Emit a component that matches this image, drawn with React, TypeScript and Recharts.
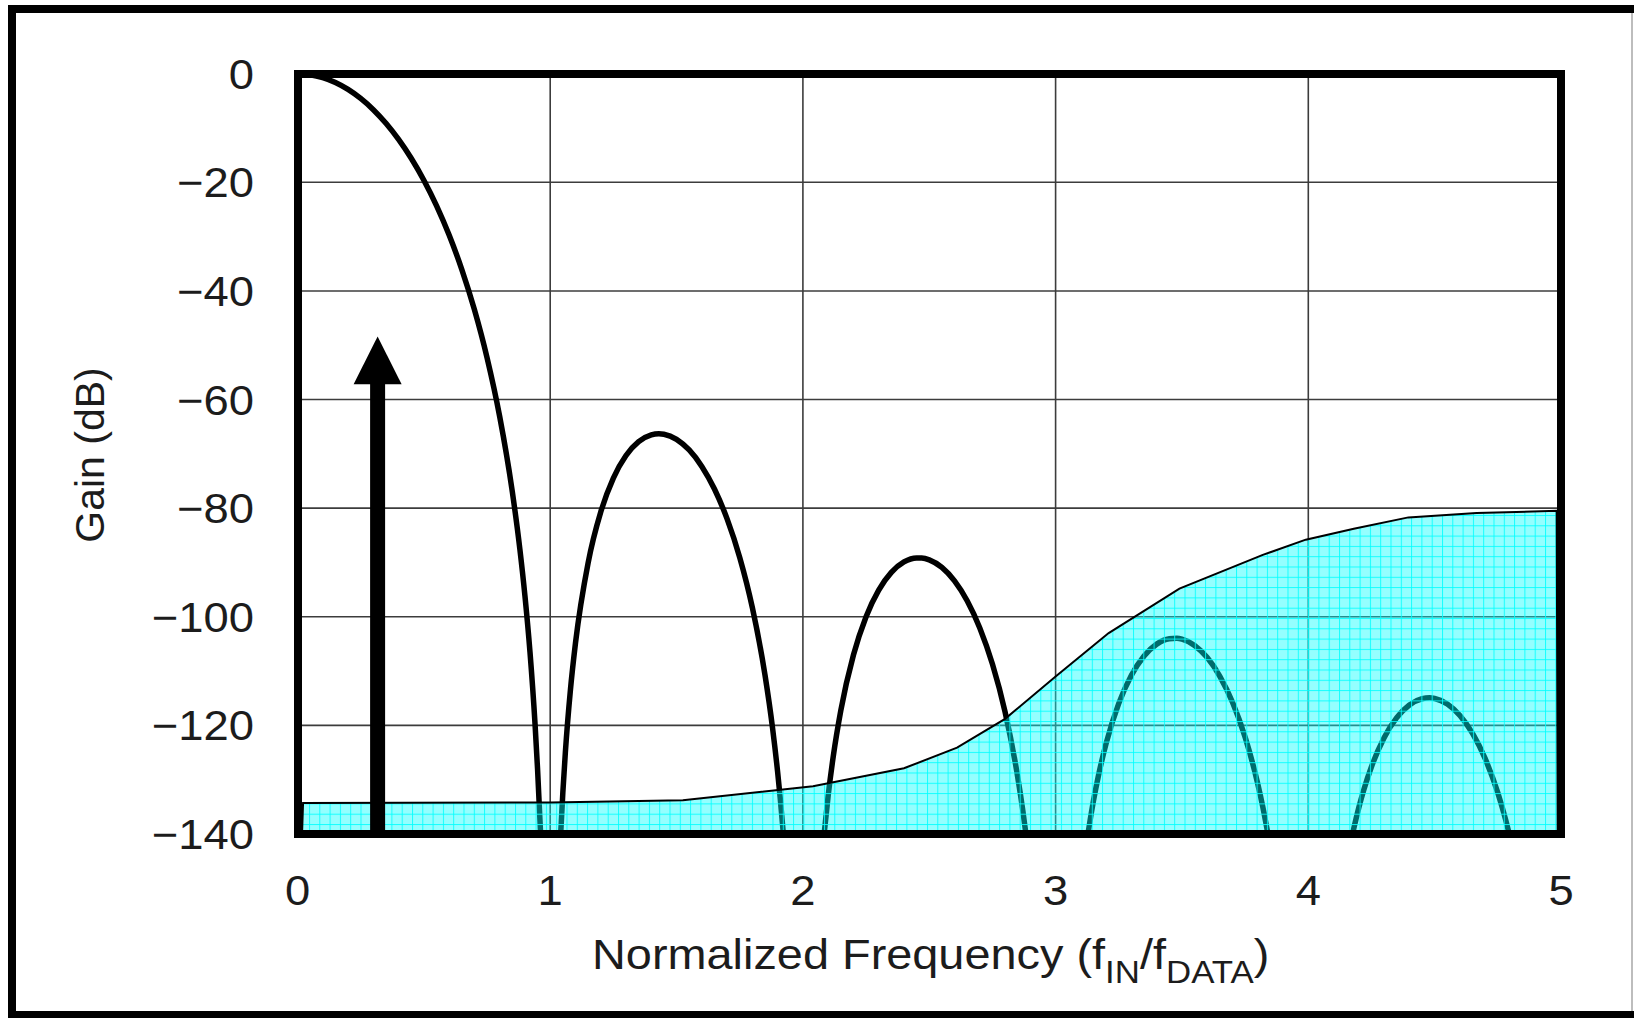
import React from 'react';
import { ComposedChart, Line, Area, XAxis, YAxis, CartesianGrid, Scatter } from 'recharts';

// ---------- data ----------
const X_TICKS = [0, 1, 2, 3, 4, 5];
const X_LABELS = ['0', '1', '2', '3', '4', '5'];
const Y_TICKS = [0, -20, -40, -60, -80, -100, -120, -140];
const Y_LABELS = ['0', '\u221220', '\u221240', '\u221260', '\u221280', '\u2212100', '\u2212120', '\u2212140'];

const LOBE_1 = [
  { x: 0, y: 0 }, { x: 0.05, y: -0.18 }, { x: 0.1, y: -0.72 }, { x: 0.15, y: -1.62 }, { x: 0.2, y: -2.9 },
  { x: 0.25, y: -4.56 }, { x: 0.3, y: -6.63 }, { x: 0.35, y: -9.13 }, { x: 0.4, y: -12.1 }, { x: 0.45, y: -15.57 },
  { x: 0.5, y: -19.61 }, { x: 0.55, y: -24.29 }, { x: 0.6, y: -29.71 }, { x: 0.65, y: -36.02 }, { x: 0.7, y: -43.43 },
  { x: 0.75, y: -52.27 }, { x: 0.8, y: -63.1 }, { x: 0.85, y: -76.95 }, { x: 0.88, y: -87.56 }, { x: 0.9, y: -96.14 },
  { x: 0.92, y: -106.5 }, { x: 0.94, y: -119.75 }, { x: 0.95, y: -128.06 }, { x: 0.962, y: -140 },
];
const LOBE_2 = [
  { x: 1.0415, y: -140 }, { x: 1.05, y: -132.4 }, { x: 1.06, y: -124.97 }, { x: 1.08, y: -113.49 }, { x: 1.1, y: -104.86 },
  { x: 1.15, y: -90.08 }, { x: 1.2, y: -80.71 }, { x: 1.25, y: -74.46 }, { x: 1.3, y: -70.31 }, { x: 1.35, y: -67.76 },
  { x: 1.4, y: -66.51 }, { x: 1.43, y: -66.31 }, { x: 1.45, y: -66.39 }, { x: 1.5, y: -67.32 }, { x: 1.55, y: -69.29 },
  { x: 1.6, y: -72.31 }, { x: 1.65, y: -76.48 }, { x: 1.7, y: -81.97 }, { x: 1.75, y: -89.07 }, { x: 1.8, y: -98.32 },
  { x: 1.85, y: -110.73 }, { x: 1.88, y: -120.53 }, { x: 1.9, y: -128.59 }, { x: 1.91, y: -133.26 }, { x: 1.9227, y: -140 },
];
const LOBE_3 = [
  { x: 2.084, y: -140 }, { x: 2.1, y: -132.94 }, { x: 2.12, y: -125.75 }, { x: 2.15, y: -117.25 }, { x: 2.2, y: -107.04 },
  { x: 2.25, y: -99.98 }, { x: 2.3, y: -95.09 }, { x: 2.35, y: -91.83 }, { x: 2.4, y: -89.91 }, { x: 2.45, y: -89.17 },
  { x: 2.47, y: -89.18 }, { x: 2.5, y: -89.51 }, { x: 2.55, y: -90.91 }, { x: 2.6, y: -93.39 }, { x: 2.65, y: -97.05 },
  { x: 2.7, y: -102.05 }, { x: 2.75, y: -108.7 }, { x: 2.8, y: -117.51 }, { x: 2.85, y: -129.5 }, { x: 2.87, y: -135.61 },
  { x: 2.8826, y: -140 },
];
const LOBE_4 = [
  { x: 3.128, y: -140 }, { x: 3.14, y: -136.49 }, { x: 3.15, y: -133.84 }, { x: 3.17, y: -129.15 }, { x: 3.2, y: -123.31 },
  { x: 3.25, y: -115.95 }, { x: 3.3, y: -110.77 }, { x: 3.35, y: -107.23 }, { x: 3.4, y: -105.04 }, { x: 3.45, y: -104.04 },
  { x: 3.48, y: -103.96 }, { x: 3.5, y: -104.12 }, { x: 3.55, y: -105.28 }, { x: 3.6, y: -107.52 }, { x: 3.65, y: -110.96 },
  { x: 3.7, y: -115.74 }, { x: 3.75, y: -122.17 }, { x: 3.8, y: -130.77 }, { x: 3.82, y: -135.02 }, { x: 3.8403, y: -140 },
];
const LOBE_5 = [
  { x: 4.1749, y: -140 }, { x: 4.2, y: -135.12 }, { x: 4.22, y: -131.8 }, { x: 4.25, y: -127.61 }, { x: 4.3, y: -122.27 },
  { x: 4.35, y: -118.58 }, { x: 4.4, y: -116.24 }, { x: 4.45, y: -115.09 }, { x: 4.48, y: -114.93 }, { x: 4.5, y: -115.04 },
  { x: 4.55, y: -116.05 }, { x: 4.6, y: -118.17 }, { x: 4.65, y: -121.47 }, { x: 4.7, y: -126.13 }, { x: 4.75, y: -132.44 },
  { x: 4.78, y: -137.22 }, { x: 4.7952, y: -140 },
];

const NOISE_FLOOR = [
  { x: 0.018, y: -140 }, { x: 0.022, y: -134.3 }, { x: 1.0, y: -134.2 }, { x: 1.525, y: -133.8 }, { x: 2.04, y: -131.2 },
  { x: 2.4, y: -127.9 }, { x: 2.61, y: -124.1 }, { x: 2.8, y: -118.8 }, { x: 3.0, y: -111.0 }, { x: 3.21, y: -103.0 },
  { x: 3.49, y: -94.8 }, { x: 3.82, y: -88.6 }, { x: 3.99, y: -85.8 }, { x: 4.18, y: -83.8 }, { x: 4.396, y: -81.7 },
  { x: 4.666, y: -80.9 }, { x: 4.983, y: -80.5 }, { x: 4.987, y: -140 },
];

const ARROW_X = 0.317;
const ARROW_TIP = -48.4;
const ARROW_BASE = -57;
const ARROW_SHAFT = [{ x: ARROW_X, y: -140 }, { x: ARROW_X, y: ARROW_BASE }];
const ARROW_HEAD = [{ x: ARROW_X, y: ARROW_TIP }];

const X_TITLE = 'Normalized Frequency (f';
const X_SUB1 = 'IN';
const X_MID = '/f';
const X_SUB2 = 'DATA';
const X_END = ')';
const Y_TITLE = 'Gain (dB)';

// ---------- layout ----------
const W = 1634;
const H = 1018;
const PL = 297.5;
const PR = 1561;
const PT = 73.7;
const PB = 834;
const YW = 60;
const XH = 60;
const FONT = '"Liberation Sans", Arial, Helvetica, sans-serif';
const TEXT = '#1c1c1c';

const XTick = (props: any) => {
  const { x, payload } = props;
  const i = X_TICKS.indexOf(payload.value);
  return (
    <text transform={`translate(${x},905) scale(1.08,1)`} textAnchor="middle" fontFamily={FONT} fontSize={42} fill={TEXT}>
      {X_LABELS[i]}
    </text>
  );
};

const YTick = (props: any) => {
  const { y, payload } = props;
  const i = Y_TICKS.indexOf(payload.value);
  return (
    <text transform={`translate(254,${y + 15}) scale(1.08,1)`} textAnchor="end" fontFamily={FONT} fontSize={42} fill={TEXT}>
      {Y_LABELS[i]}
    </text>
  );
};

const XTitle = () => (
  <text transform="translate(592,969) scale(1.09,1)" fontFamily={FONT} fontSize={43} fill={TEXT}>
    <tspan>{X_TITLE}</tspan>
    <tspan fontSize={32} dy={14}>{X_SUB1}</tspan>
    <tspan dy={-14}>{X_MID}</tspan>
    <tspan fontSize={32} dy={14}>{X_SUB2}</tspan>
    <tspan dy={-14}>{X_END}</tspan>
  </text>
);

const YTitle = () => (
  <text transform="translate(104,455) rotate(-90)" textAnchor="middle" fontFamily={FONT} fontSize={41} fill={TEXT}>
    {Y_TITLE}
  </text>
);

const ArrowHead = (props: any) => {
  const { cx, cy } = props;
  return <polygon points={`${cx},${cy} ${cx - 24},${cy + 47.6} ${cx + 24},${cy + 47.6}`} fill="#000" />;
};

const lobeProps = {
  dataKey: 'y',
  type: 'monotone' as const,
  stroke: '#000',
  strokeWidth: 5.5,
  dot: false,
  activeDot: false,
  isAnimationActive: false,
  zIndex: 400,
};

export default function App() {
  return (
    <div style={{ position: 'absolute', left: 0, top: 0, width: W, height: H, background: '#fff', overflow: 'hidden' }}>
      <div style={{ position: 'absolute', left: 8, top: 5, width: W - 8, height: 8, background: '#000' }} />
      <div style={{ position: 'absolute', left: 8, top: 5, width: 8, height: H - 5, background: '#000' }} />
      <div style={{ position: 'absolute', left: 8, top: 1011, width: W - 8, height: 7, background: '#000' }} />
      <div style={{ position: 'absolute', left: 1631, top: 13, width: 1.5, height: 998, background: '#bdbdbd' }} />
      <div style={{ position: 'absolute', left: 0, top: 0 }}>
        <ComposedChart
          width={W}
          height={H}
          margin={{ top: PT, right: W - PR, bottom: H - PB - XH, left: PL - YW }}
        >
          <defs>
            <pattern id="cyanGrid" patternUnits="userSpaceOnUse" width={10.3} height={10.3}>
              <rect x={0} y={0} width={10.3} height={10.3} fill="#00ffff" fillOpacity={0.42} />
              <line x1={0.5} y1={0} x2={0.5} y2={10.3} stroke="#00ffff" strokeOpacity={0.85} strokeWidth={1} />
              <line x1={0} y1={0.5} x2={10.3} y2={0.5} stroke="#00ffff" strokeOpacity={0.85} strokeWidth={1} />
            </pattern>
          </defs>
          <CartesianGrid stroke="#3c3c3c" strokeWidth={1.6} horizontal vertical />
          <XAxis
            type="number"
            dataKey="x"
            domain={[0, 5]}
            ticks={X_TICKS}
            allowDataOverflow
            axisLine={false}
            tickLine={false}
            height={XH}
            tick={<XTick />}
            label={<XTitle />}
          />
          <YAxis
            type="number"
            dataKey="y"
            domain={[-140, 0]}
            ticks={Y_TICKS}
            allowDataOverflow
            axisLine={false}
            tickLine={false}
            width={YW}
            tick={<YTick />}
            label={<YTitle />}
          />
          <Line data={LOBE_1} {...lobeProps} />
          <Line data={LOBE_2} {...lobeProps} />
          <Line data={LOBE_3} {...lobeProps} />
          <Line data={LOBE_4} {...lobeProps} />
          <Line data={LOBE_5} {...lobeProps} />
          <Area
            data={NOISE_FLOOR}
            dataKey="y"
            type="linear"
            baseValue={-140}
            fill="url(#cyanGrid)"
            fillOpacity={1}
            stroke="#000"
            strokeWidth={2}
            dot={false}
            activeDot={false}
            isAnimationActive={false}
            zIndex={450}
          />
          <Line
            data={ARROW_SHAFT}
            dataKey="y"
            type="linear"
            stroke="#000"
            strokeWidth={15}
            dot={false}
            activeDot={false}
            isAnimationActive={false}
            zIndex={500}
          />
          <Scatter data={ARROW_HEAD} dataKey="y" shape={<ArrowHead />} isAnimationActive={false} zIndex={600} />
        </ComposedChart>
      </div>
      <div
        style={{
          position: 'absolute',
          left: PL - 4,
          top: PT - 4,
          width: PR - PL + 8,
          height: PB - PT + 8,
          border: '8px solid #000',
          boxSizing: 'border-box',
          pointerEvents: 'none',
        }}
      />
    </div>
  );
}
